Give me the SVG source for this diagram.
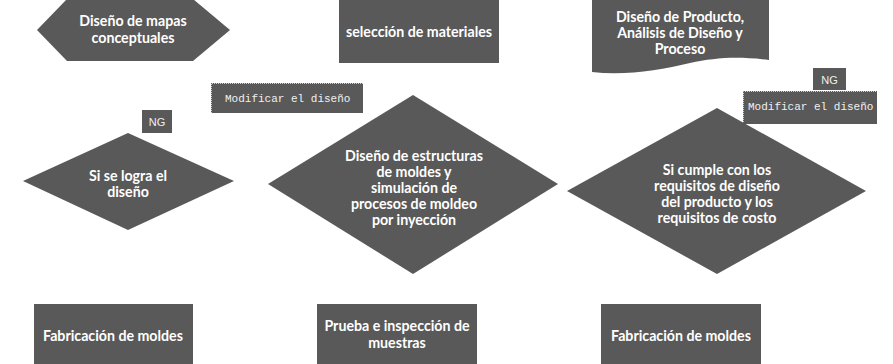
<svg xmlns="http://www.w3.org/2000/svg" width="893" height="364" viewBox="0 0 893 364">
<style>
.s{fill:#595959}
.t{font-family:Lato,"Open Sans","Liberation Sans",sans-serif;font-weight:bold;font-size:14.2px;fill:#ffffff;text-anchor:middle}
.m{font-family:"Liberation Mono","DejaVu Sans Mono",monospace;font-size:11px;fill:#f0f0f0}
.ng{font-family:"Liberation Sans",sans-serif;font-size:11px;fill:#f0f0f0;text-anchor:middle}
.d{fill:none;stroke:#d0d0d0;stroke-width:1;stroke-dasharray:1 1}
</style>
<rect width="893" height="364" fill="#ffffff"/>
<g id="n-mapas">
<polygon class="s" points="67,-1 193,-1 230,30 193,61 67,61 37,30"/>
<text class="t" x="133" y="26">Diseño de mapas</text>
<text class="t" x="133" y="43">conceptuales</text>
</g>
<g id="n-materiales">
<rect class="s" x="339" y="0" width="160" height="63"/>
<text class="t" x="419" y="37">selección de materiales</text>
</g>
<g id="n-producto">
<path class="s" d="M592,0 H769 V60 C735,56 715,58 690,63 C660,70 625,76 592,72 Z"/>
<text class="t" x="680" y="22">Diseño de Producto,</text>
<text class="t" x="680" y="38">Análisis de Diseño y</text>
<text class="t" x="680" y="54">Proceso</text>
</g>
<g id="n-mod1">
<rect class="s" x="211" y="83" width="152" height="30"/>
<path class="d" d="M211.5,113 V83.5 H363"/>
<text class="m" x="225" y="102">Modificar el diseño</text>
</g>
<g id="n-ng1">
<rect class="s" x="142" y="110" width="30" height="23"/>
<text class="ng" x="157" y="126">NG</text>
</g>
<g id="n-ng2">
<rect class="s" x="813" y="68" width="33" height="22"/>
<text class="ng" x="829.5" y="84">NG</text>
</g>
<g id="n-mod2">
<rect class="s" x="743" y="91" width="134" height="33"/>
<path class="d" d="M743.5,124 V91.5 H877"/>
<text class="m" x="748" y="110">Modificar el diseño</text>
</g>
<g id="n-logra">
<polygon class="s" points="128,133 234,181 128,230 23,181"/>
<text class="t" x="128" y="181">Si se logra el</text>
<text class="t" x="128" y="197">diseño</text>
</g>
<g id="n-estructuras">
<polygon class="s" points="413,95 558,184 413,274 268,184"/>
<text class="t" x="414" y="161">Diseño de estructuras</text>
<text class="t" x="414" y="177">de moldes y</text>
<text class="t" x="414" y="193">simulación de</text>
<text class="t" x="414" y="209">procesos de moldeo</text>
<text class="t" x="414" y="225">por inyección</text>
</g>
<g id="n-cumple">
<polygon class="s" points="717,108 866,191 717,274 567,191"/>
<text class="t" x="717" y="175">Si cumple con los</text>
<text class="t" x="717" y="191">requisitos de diseño</text>
<text class="t" x="717" y="207">del producto y los</text>
<text class="t" x="717" y="223">requisitos de costo</text>
</g>
<g id="n-fab1">
<rect class="s" x="34" y="304" width="159" height="60"/>
<text class="t" x="113" y="341">Fabricación de moldes</text>
</g>
<g id="n-prueba">
<rect class="s" x="317" y="304" width="160" height="60"/>
<text class="t" x="397" y="331">Prueba e inspección de</text>
<text class="t" x="397" y="348">muestras</text>
</g>
<g id="n-fab2">
<rect class="s" x="601" y="304" width="160" height="60"/>
<text class="t" x="681" y="341">Fabricación de moldes</text>
</g>
<g id="connectors"></g>
</svg>
